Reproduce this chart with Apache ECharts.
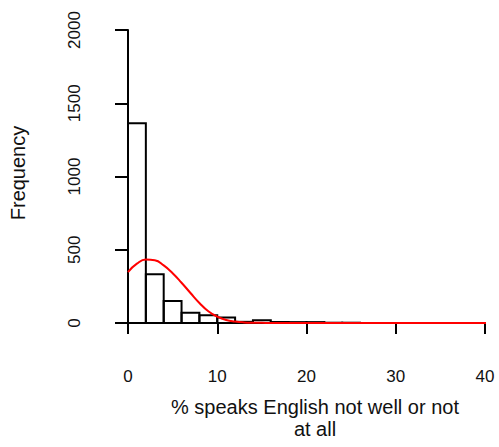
<!DOCTYPE html>
<html>
<head>
<meta charset="utf-8">
<script src="https://cdn.jsdelivr.net/npm/echarts@6/dist/echarts.min.js"></script>
<style>html,body{margin:0;padding:0;background:#fff}#c{width:499px;height:447px}</style>
</head>
<body>
<div id="c"></div>
<script>
// Histogram bins (width 2) and counts
const binStarts = [0, 2, 4, 6, 8, 10, 12, 14, 16, 18, 20, 22, 24];
const binWidth = 2;
const counts = [1363, 333, 150, 70, 53, 37, 8, 18, 7, 6, 6, 2, 2];
// Red density curve
const curveX = [0, 1, 2, 3, 4, 5, 6, 7, 8, 9, 10, 11, 12, 13, 14, 15, 16, 17, 18, 19, 20, 25, 30, 35, 41.5];
const curveY = [348, 405, 433, 428, 393, 340, 275, 205, 137, 80, 44, 21, 10, 4, 2, 1, 0, 0, 0, 0, 0, 0, 0, 0, 0];
const xTicks = [0, 10, 20, 30, 40];
const yTicks = [0, 500, 1000, 1500, 2000];
const xTitle = '% speaks English not well or not\nat all';
const yTitle = 'Frequency';

const FONT = '"Liberation Sans", Arial, Helvetica, sans-serif';
const chart = echarts.init(document.getElementById('c'), null, {renderer: 'svg'});
const barData = binStarts.map((s, i) => [s, s + binWidth, counts[i]]);
const lineData = curveX.map((x, i) => [x, curveY[i]]);

chart.setOption({
  animation: false,
  backgroundColor: '#fff',
  grid: {left: 128, right: 14, top: 30, bottom: 124},
  xAxis: {
    type: 'value', min: xTicks[0], max: xTicks[xTicks.length - 1], interval: 10,
    offset: 14,
    splitLine: {show: false},
    axisLine: {show: true, lineStyle: {color: '#000', width: 2}},
    axisTick: {show: true, length: 11, lineStyle: {color: '#000', width: 2}},
    axisLabel: {color: '#111', fontSize: 17, fontFamily: FONT, margin: 31, formatter: v => String(v)},
    name: xTitle, nameLocation: 'middle', nameGap: 59,
    nameTextStyle: {color: '#111', fontSize: 20, fontFamily: FONT, lineHeight: 22, padding: [0, 0, 0, 17]}
  },
  yAxis: {
    type: 'value', min: yTicks[0], max: yTicks[yTicks.length - 1], interval: 500,
    offset: 17,
    splitLine: {show: false},
    axisLine: {show: true, lineStyle: {color: '#000', width: 2}},
    axisTick: {show: true, length: 13, lineStyle: {color: '#000', width: 2}},
    axisLabel: {color: '#111', fontSize: 17, fontFamily: FONT, margin: 28, rotate: 90, formatter: v => String(v)},
    name: yTitle, nameLocation: 'middle', nameGap: 83, nameRotate: 90,
    nameTextStyle: {color: '#111', fontSize: 20, fontFamily: FONT, padding: [0, 0, 0, 7]}
  },
  series: [
    {
      type: 'custom',
      data: barData,
      encode: {x: [0, 1], y: 2},
      clip: false,
      z: 2,
      renderItem: function (params, api) {
        const p0 = api.coord([api.value(0), api.value(2)]);
        const p1 = api.coord([api.value(1), 0]);
        return {
          type: 'rect',
          shape: {x: p0[0], y: p0[1], width: p1[0] - p0[0], height: p1[1] - p0[1]},
          style: {fill: 'transparent', stroke: '#000', lineWidth: 2}
        };
      }
    },
    {
      type: 'line',
      data: lineData,
      showSymbol: false,
      symbol: 'none',
      smooth: 0.5,
      clip: false,
      z: 3,
      lineStyle: {color: '#ff0000', width: 2}
    }
  ]
});
</script>
</body>
</html>
